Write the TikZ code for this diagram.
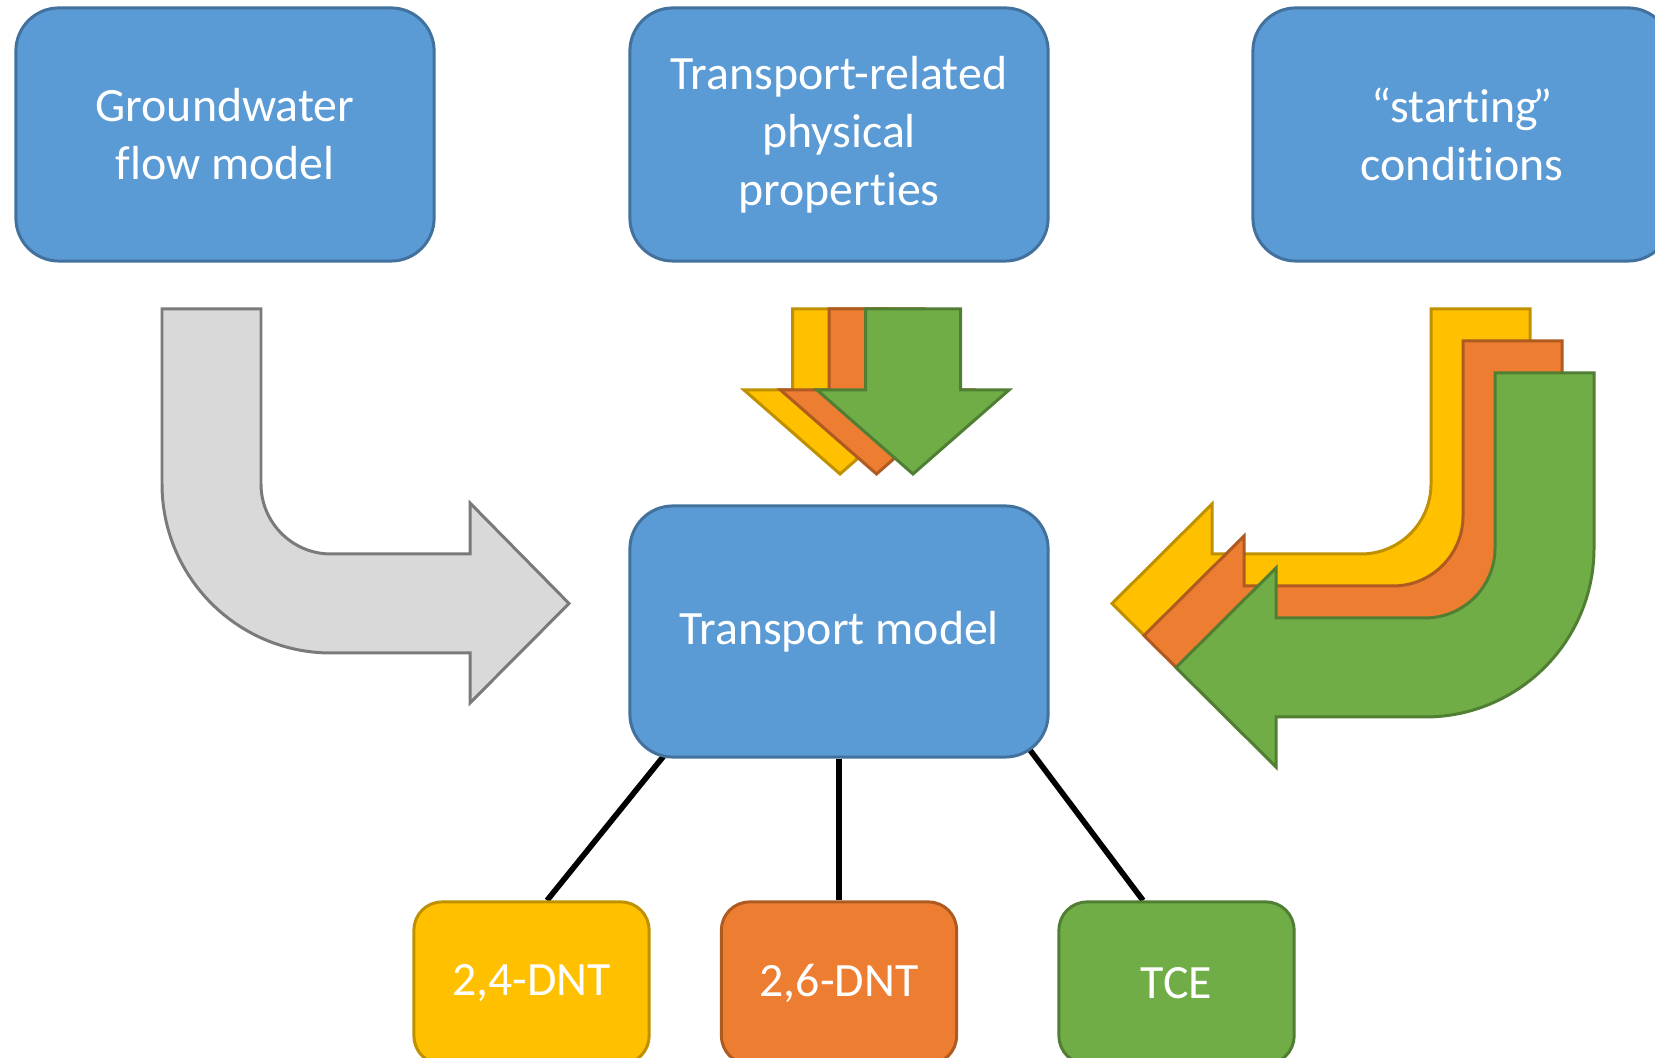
\documentclass[tikz,border=0pt]{standalone}
\usepackage{fontspec}
\setmainfont{Carlito}[Ligatures=NoCommon]
\usetikzlibrary{backgrounds}
\definecolor{boxblue}{HTML}{5B9BD5}
\definecolor{boxline}{HTML}{41719C}
\definecolor{flowgray}{HTML}{D9D9D9}
\definecolor{flowline}{HTML}{7A7A7A}
\definecolor{dntyellow}{HTML}{FFC000}
\definecolor{dntyellowline}{HTML}{BF9000}
\definecolor{dntorange}{HTML}{ED7D31}
\definecolor{dntorangeline}{HTML}{AE5A21}
\definecolor{tcegreen}{HTML}{70AD47}
\definecolor{tcegreenline}{HTML}{507E32}
\newcommand{\darr}[3]{%
  \filldraw[fill=#1,draw=#2,line width=0.85pt]
    (#3-47.5,749) -- (#3+47.5,749) -- (#3+47.5,668) -- (#3+96,668) -- (#3,584)
    -- (#3-96,668) -- (#3-47.5,668) -- cycle;}
\newcommand{\barr}[3]{%
  \filldraw[fill=#1,draw=#2,line width=0.85pt,shift={(-#3,#3)}]
    (1594,685) -- (1495,685) -- (1495,510) arc[start angle=0,end angle=-90,radius=70]
    -- (1276,440) -- (1276,490) -- (1176,390.5) -- (1276,291) -- (1276,341) -- (1425,341)
    arc[start angle=-90,end angle=0,radius=169] -- cycle;}

\begin{document}
\begin{tikzpicture}[x=0.01cm,y=0.01cm,
    blk/.style={draw=boxline,fill=boxblue,line width=0.85pt,rounded corners=0.43cm,
      minimum width=4.18cm,minimum height=2.53cm,text=white,align=center,
      font=\fontsize{13.6}{16.5}\selectfont},
    sub/.style={line width=0.85pt,rounded corners=0.28cm,minimum width=2.35cm,
      minimum height=1.62cm,text=white,font=\fontsize{13.6}{16.5}\selectfont},
    link/.style={line width=1.6pt}]
      \useasboundingbox (0,0) rectangle (1655,1058);
      \clip (0,0) rectangle (1655,1058);
      \node (gw) at (225,923.5) [blk] {Groundwater\\flow model};
      \node (trp) at (839,923.5) [blk] {Transport-related\\physical\\properties};
      \node (cond) at (1462,923.5) [blk] {“starting\kern-0.12em”\\conditions};
      \node (tm) at (839,426.5) [blk,minimum height=2.51cm] {Transport model};
      \node (dnt24) at (531.5,75) [sub,fill=dntyellow,draw=dntyellowline] {2,4-DNT};
      \node (dnt26) at (839,75) [sub,fill=dntorange,draw=dntorangeline] {2,6-DNT};
      \node (tce) at (1176.5,75) [sub,fill=tcegreen,draw=tcegreenline] {TCE};
      % flow field into the transport model
      \filldraw[fill=flowgray,draw=flowline,line width=0.85pt]
        (162,749) -- (261,749) -- (261,574) arc[start angle=180,end angle=270,radius=70]
        -- (470,504) -- (470,555) -- (569,454.5) -- (470,355) -- (470,405) -- (331,405)
        arc[start angle=270,end angle=180,radius=169] -- cycle;
      % one arrow per compound
      \darr{dntyellow}{dntyellowline}{840}
      \darr{dntorange}{dntorangeline}{876.5}
      \darr{tcegreen}{tcegreenline}{913}
      \barr{dntyellow}{dntyellowline}{64}
      \barr{dntorange}{dntorangeline}{32}
      \barr{tcegreen}{tcegreenline}{0}
      \begin{scope}[on background layer]
        \draw[link] ([shift={(15.5,0)}]dnt24.north) -- ([shift={(47,17)}]tm.south west);
        \draw[link] (dnt26.north) -- (tm.south);
        \draw[link] ([shift={(-33.5,0)}]tce.north) -- ([shift={(-26,17)}]tm.south east);
      \end{scope}
    \end{tikzpicture}
\end{document}
